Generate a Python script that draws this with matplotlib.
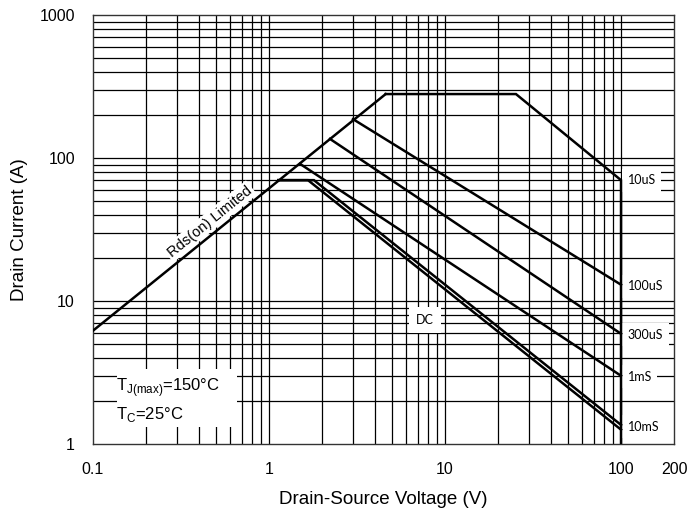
import numpy as np
import matplotlib
matplotlib.use('Agg')
import matplotlib.pyplot as plt
from matplotlib.patches import Rectangle

plt.rcParams['font.family'] = ['Liberation Sans', 'DejaVu Sans']
plt.rcParams['mathtext.fontset'] = 'custom'
plt.rcParams['mathtext.rm'] = 'Liberation Sans'

# safe operating area curves
rds_v = [0.1, 4.6]
rds_i = [6.2, 280]
us10_v = [4.6, 25.3, 100, 100]
us10_i = [280, 280, 70, 1]
us100_v = [3.0, 100]
us100_i = [187, 13.0]
us300_v = [2.22, 100]
us300_i = [136, 5.9]
ms1_v = [1.5, 100]
ms1_i = [91, 3.0]
ms10_v = [1.13, 1.80, 100]
ms10_i = [70, 70, 1.36]
dc_v = [1.13, 1.665, 100]
dc_i = [70, 70, 1.26]

curve_labels = ['10uS', '100uS', '300uS', '1mS', '10mS']
label_i = [70, 12.7, 5.8, 2.95, 1.32]

xticks = [0.1, 1, 10, 100, 200]
xticklabels = ['0.1', '1', '10', '100', '200']
yticks = [1, 10, 100, 1000]
yticklabels = ['1', '10', '100', '1000']

fig = plt.figure(figsize=(6.87, 5.16), dpi=100)
ax = fig.add_axes([93/687, 1-444/516, (674-93)/687, (444-15)/516])
ax.set_xscale('log')
ax.set_yscale('log')
ax.set_xlim(0.1, 200)
ax.set_ylim(1, 1000)

# grid
xminor = [m * 10.0**d for d in (-1, 0, 1) for m in range(2, 10)]
yminor = [m * 10.0**d for d in (0, 1, 2) for m in range(2, 10)]
for x in xminor + [1, 10, 100]:
    ax.axvline(x, color='black', lw=0.9, zorder=1)
for y in yminor + [10, 100]:
    ax.axhline(y, color='black', lw=0.9, zorder=1)

ax.set_xticks(xticks)
ax.set_xticklabels(xticklabels)
ax.set_yticks(yticks)
ax.set_yticklabels(yticklabels)
ax.xaxis.set_minor_locator(matplotlib.ticker.NullLocator())
ax.yaxis.set_minor_locator(matplotlib.ticker.NullLocator())
ax.tick_params(length=0, labelsize=11.5)
ax.tick_params(axis='x', pad=13)
ax.tick_params(axis='y', pad=13)
for s in ax.spines.values():
    s.set_linewidth(1.0)
    s.set_color('#333333')

ax.set_xlabel('Drain-Source Voltage (V)', fontsize=13.5, labelpad=10)
ax.set_ylabel('Drain Current (A)', fontsize=13.5, labelpad=8)

lw = 1.8
for v, i in [(rds_v, rds_i), (us10_v, us10_i), (us100_v, us100_i),
             (us300_v, us300_i), (ms1_v, ms1_i), (ms10_v, ms10_i), (dc_v, dc_i)]:
    ax.plot(v, i, color='black', lw=lw, zorder=5, solid_joinstyle='miter')

for lab, yv in zip(curve_labels, label_i):
    ax.text(109, yv, lab, fontsize=9, family='Lato', ha='left', va='center',
            bbox=dict(facecolor='white', edgecolor='none', pad=4), zorder=4)

ax.text(7.7, 7.4, 'DC', fontsize=9, family='Lato', ha='center', va='center',
        bbox=dict(facecolor='white', edgecolor='none', pad=5), zorder=4)

ax.text(0.46, 36, 'Rds(on) Limited', fontsize=10.5, rotation=39,
        rotation_mode='anchor', ha='center', va='center',
        bbox=dict(facecolor='white', edgecolor='none', pad=1.5), zorder=3)

ax.add_patch(Rectangle((0.137, 1.32), 0.658 - 0.137, 3.34 - 1.32,
                       facecolor='white', edgecolor='none', zorder=3))
ax.text(0.135, 2.5, r'T$_{\mathregular{J(max)}}$=150°C', fontsize=12,
        ha='left', va='center', zorder=4)
ax.text(0.135, 1.6, r'T$_{\mathregular{C}}$=25°C', fontsize=12,
        ha='left', va='center', zorder=4)

fig.savefig('out.png', dpi=100)
